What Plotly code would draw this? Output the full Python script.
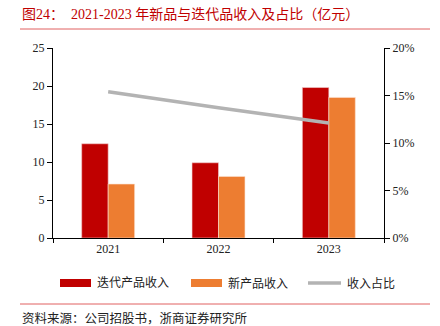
import plotly.graph_objects as go

# Revenue by year (亿元) and share of revenue
years = ["2021", "2022", "2023"]
iter_rev = [12.4, 9.9, 19.8]       # 迭代产品收入
new_rev = [7.1, 8.1, 18.5]         # 新产品收入
share = [0.154, 0.137, 0.121]      # 收入占比
names = ["迭代产品收入", "新产品收入", "收入占比"]
y_ticks = [0, 5, 10, 15, 20, 25]
y2_ticks = [0, 0.05, 0.10, 0.15, 0.20]

W, H = 440, 326
L, R, T, B = 53, 56, 48, 88
PW, PH = W - L - R, H - T - B

def px(x):
    return (x - L) / PW

def py(y):
    return (H - B - y) / PH

RED = "#c00000"
ORANGE = "#ed7d31"
GRAY = "#b3b3b3"
FONT = "Liberation Serif, Noto Sans CJK SC"

fig = go.Figure()
fig.add_trace(go.Bar(x=years, y=iter_rev, name=names[0], marker=dict(color=RED, line=dict(color="#f2d0d0", width=0.6)), showlegend=False))
fig.add_trace(go.Bar(x=years, y=new_rev, name=names[1], marker=dict(color=ORANGE, line=dict(color="#fbe3d3", width=0.6)), showlegend=False))
fig.add_trace(go.Scatter(x=years, y=share, name=names[2], mode="lines", line=dict(color=GRAY, width=3.5), yaxis="y2", showlegend=False))

shapes = [
    dict(type="line", xref="paper", yref="paper", x0=px(20), x1=px(430), y0=py(29), y1=py(29), line=dict(color="#e06060", width=1)),
    dict(type="line", xref="paper", yref="paper", x0=px(20), x1=px(430), y0=py(304), y1=py(304), line=dict(color="#e06060", width=1)),
    dict(type="rect", xref="paper", yref="paper", x0=px(60), x1=px(91), y0=py(279), y1=py(287), fillcolor=RED, line=dict(width=0)),
    dict(type="rect", xref="paper", yref="paper", x0=px(191), x1=px(222), y0=py(279), y1=py(287), fillcolor=ORANGE, line=dict(width=0)),
    dict(type="line", xref="paper", yref="paper", x0=px(308), x1=px(341), y0=py(283), y1=py(283), line=dict(color=GRAY, width=3.5)),
]

annotations = [
    dict(text="图24：  2021-2023 年新品与迭代品收入及占比（亿元）", xref="paper", yref="paper", x=px(20), y=py(15),
         xanchor="left", yanchor="middle", showarrow=False, font=dict(size=14, color=RED, family=FONT)),
    dict(text="资料来源：公司招股书，浙商证券研究所", xref="paper", yref="paper", x=px(20), y=py(318),
         xanchor="left", yanchor="middle", showarrow=False, font=dict(size=12.5, color="#222222", family=FONT)),
]
for xpos, label in zip([95, 226, 345], names):
    annotations.append(dict(text=label, xref="paper", yref="paper", x=px(xpos), y=py(283), xanchor="left", yanchor="middle",
                            showarrow=False, font=dict(size=12, color="#222222", family=FONT)))

fig.update_layout(
    width=W, height=H,
    margin=dict(l=L, r=R, t=T, b=B),
    paper_bgcolor="white", plot_bgcolor="white",
    font=dict(family=FONT, size=12, color="#222222"),
    barmode="group", bargap=0.52, bargroupgap=0,
    shapes=shapes, annotations=annotations,
    xaxis=dict(type="category", range=[-0.5, 2.5], showline=True, linecolor="black", linewidth=1,
               ticks="outside", tickson="boundaries", ticklen=4, tickcolor="black", showgrid=False),
    yaxis=dict(range=[0, 25], tickvals=y_ticks, showline=True, linecolor="black", linewidth=1, ticks="outside",
               ticklen=5, tickcolor="black", showgrid=False, zeroline=False),
    yaxis2=dict(range=[0, 0.2], tickvals=y2_ticks, tickformat=".0%", overlaying="y", side="right", showline=True,
                linecolor="black", linewidth=1, ticks="outside", ticklen=5, tickcolor="black", showgrid=False, zeroline=False),
)

fig.write_html("out.html")
